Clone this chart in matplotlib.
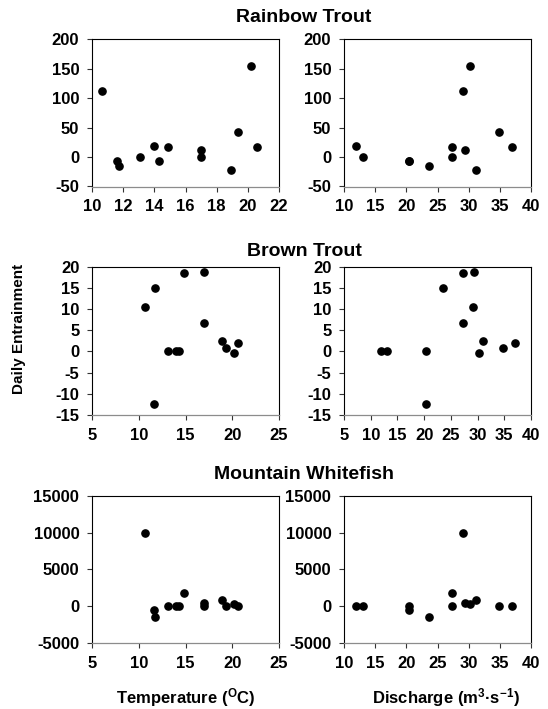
import matplotlib
matplotlib.use("Agg")
import matplotlib.pyplot as plt

plt.rcParams['font.family'] = ['Liberation Sans', 'DejaVu Sans']
plt.rcParams['font.weight'] = 'bold'
plt.rcParams['mathtext.fontset'] = 'custom'
plt.rcParams['mathtext.rm'] = 'Liberation Sans:bold'
plt.rcParams['mathtext.it'] = 'Liberation Sans:bold'
plt.rcParams['mathtext.default'] = 'rm'
plt.rcParams['axes.unicode_minus'] = False

# ---- data (13 sampling days) ----
temperature = [10.66, 11.76, 11.63, 13.08, 13.98, 14.28, 14.86, 17.0, 17.0, 18.91, 19.36, 20.21, 20.62]
discharge = [29.1, 23.6, 20.4, 13.1, 11.9, 20.4, 27.3, 29.4, 27.3, 31.1, 34.8, 30.2, 37.0]

rainbow = [112, -15, -7, 0, 18.7, -6, 16.4, 12, 0, -22.7, 43, 155, 17.6]
brown = [10.6, 15.0, -12.5, 0, 0, 0, 18.5, 18.8, 6.6, 2.5, 0.7, -0.4, 1.9]
whitefish = [10000, -1500, -550, 0, 0, 0, 1750, 480, 0, 850, 0, 260, 0]

species = ["Rainbow Trout", "Brown Trout", "Mountain Whitefish"]
values = [rainbow, brown, whitefish]

y_ticks = [[-50, 0, 50, 100, 150, 200],
           [-15, -10, -5, 0, 5, 10, 15, 20],
           [-5000, 0, 5000, 10000, 15000]]
temp_ticks = [[10, 12, 14, 16, 18, 20, 22],
              [5, 10, 15, 20, 25],
              [5, 10, 15, 20, 25]]
dis_ticks = [[10, 15, 20, 25, 30, 35, 40],
             [5, 10, 15, 20, 25, 30, 35, 40],
             [10, 15, 20, 25, 30, 35, 40]]

W, H = 548, 709
fig = plt.figure(figsize=(W / 100, H / 100), dpi=100)

rows_px = [(39.3, 186.5), (266.7, 415.0), (495.7, 643.0)]
cols_px = [(92, 279), (344, 531)]
title_y = [22.5, 256.5, 479.0]


def style(ax, xt, yt):
    ax.set_xlim(xt[0], xt[-1])
    ax.set_ylim(yt[0], yt[-1])
    ax.set_xticks(xt)
    ax.set_yticks(yt)
    for s in ['left', 'top', 'right']:
        ax.spines[s].set_color('black')
        ax.spines[s].set_linewidth(0.8)
    ax.spines['bottom'].set_color('#8c8c8c')
    ax.spines['bottom'].set_linewidth(0.9)
    ax.tick_params(axis='both', direction='out', length=3.6, width=0.8,
                   color='#333333', labelsize=12, pad=5.5)
    for lab in ax.get_xticklabels() + ax.get_yticklabels():
        lab.set_fontweight('bold')


for r in range(3):
    top, bot = rows_px[r]
    for c in range(2):
        x0, x1 = cols_px[c]
        ax = fig.add_axes([x0 / W, 1 - bot / H, (x1 - x0) / W, (bot - top) / H])
        xs = temperature if c == 0 else discharge
        xt = temp_ticks[r] if c == 0 else dis_ticks[r]
        ax.plot(xs, values[r], 'o', color='black', ms=5.2, clip_on=False, zorder=3)
        style(ax, xt, y_ticks[r])
    fig.text(304 / W, 1 - title_y[r] / H, species[r], ha='center', va='baseline',
             fontsize=14, fontweight='bold')

fig.text(19 / W, 1 - 329 / H, "Daily Entrainment", rotation=90, ha='center',
         va='center', fontsize=11, fontweight='bold')
fig.text(186 / W, 1 - 703 / H, "Temperature ($^{O}$C)", ha='center', va='baseline',
         fontsize=12, fontweight='bold')
fig.text(446 / W, 1 - 703 / H, "Discharge (m$^{3}$·s$^{-1}$)", ha='center', va='baseline',
         fontsize=12, fontweight='bold')

fig.savefig("out.png", dpi=100)
